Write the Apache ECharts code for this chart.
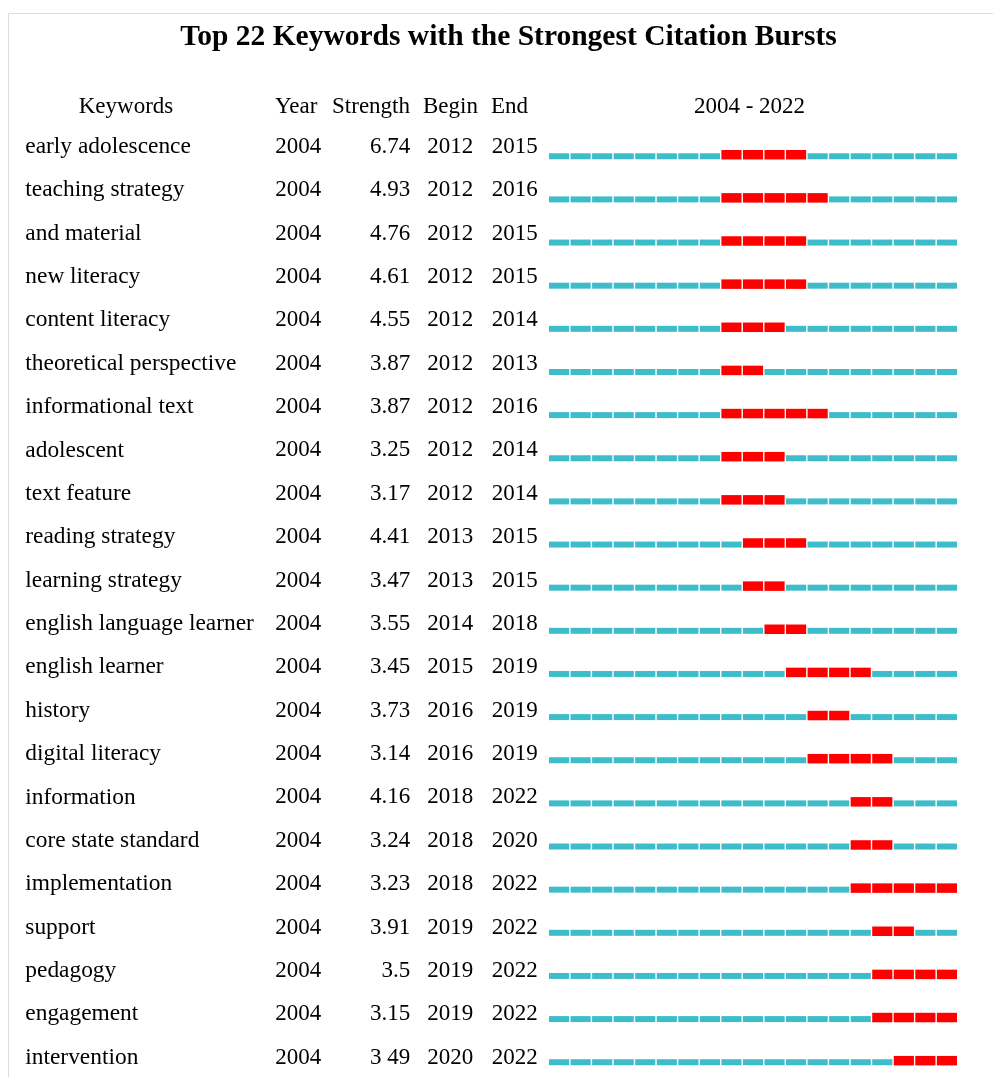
<!DOCTYPE html>
<html>
<head>
<meta charset="utf-8">
<script src="https://cdn.jsdelivr.net/npm/echarts@6/dist/echarts.min.js"></script>
<style>
  html, body { margin: 0; padding: 0; background: #fff; }
  #chart { width: 993px; height: 1077px; }
</style>
</head>
<body>
<div id="chart"></div>
<script>
const keywords = [
  'early adolescence', 'teaching strategy', 'and material', 'new literacy',
  'content literacy', 'theoretical perspective', 'informational text', 'adolescent',
  'text feature', 'reading strategy', 'learning strategy', 'english language learner',
  'english learner', 'history', 'digital literacy', 'information',
  'core state standard', 'implementation', 'support', 'pedagogy',
  'engagement', 'intervention'
];
const yearCol = Array(22).fill('2004');
const strength = [
  '6.74', '4.93', '4.76', '4.61', '4.55', '3.87', '3.87', '3.25', '3.17', '4.41', '3.47',
  '3.55', '3.45', '3.73', '3.14', '4.16', '3.24', '3.23', '3.91', '3.5', '3.15', '3 49'
];
const begin = [
  '2012', '2012', '2012', '2012', '2012', '2012', '2012', '2012', '2012', '2013', '2013',
  '2014', '2015', '2016', '2016', '2018', '2018', '2018', '2019', '2019', '2019', '2020'
];
const end = [
  '2015', '2016', '2015', '2015', '2014', '2013', '2016', '2014', '2014', '2015', '2015',
  '2018', '2019', '2019', '2019', '2022', '2020', '2022', '2022', '2022', '2022', '2022'
];
// red segments as drawn in the timeline
const burstFrom = [
  2012, 2012, 2012, 2012, 2012, 2012, 2012, 2012, 2012, 2013, 2013,
  2014, 2015, 2016, 2016, 2018, 2018, 2018, 2019, 2019, 2019, 2020
];
const burstTo = [
  2015, 2016, 2015, 2015, 2014, 2013, 2016, 2014, 2014, 2015, 2014,
  2015, 2018, 2017, 2019, 2019, 2019, 2022, 2020, 2022, 2022, 2022
];
const firstYear = 2004;
const lastYear = 2022;

const FONT = '"Liberation Serif", "Times New Roman", serif';
const TEAL = '#3dbdca';
const RED = '#ff0000';

const cells = [];
keywords.forEach((k, i) => {
  for (let y = firstYear; y <= lastYear; y++) {
    cells.push([y, i, y >= burstFrom[i] && y <= burstTo[i] ? 1 : 0]);
  }
});

function renderCell(params, api) {
  const yr = api.value(0);
  const row = api.value(1);
  const hot = api.value(2);
  const p0 = api.coord([yr, row]);
  const p1 = api.coord([yr + 1, row]);
  const c = p0[1];
  const x = p0[0] + 0.7;
  const w = p1[0] - p0[0] - 1.4;
  return {
    type: 'rect',
    shape: hot ? { x: x, y: c - 6.3, width: w, height: 9.5 }
               : { x: x, y: c - 3, width: w, height: 6 },
    style: { fill: hot ? RED : TEAL }
  };
}

function colAxis(values, margin, align, size, pad) {
  return {
    type: 'category',
    gridIndex: 0,
    data: keywords,
    inverse: true,
    position: 'left',
    offset: 0,
    axisLine: { show: false },
    axisTick: { show: false },
    splitLine: { show: false },
    axisLabel: {
      interval: 0,
      margin: margin,
      align: align,
      padding: pad,
      fontFamily: FONT,
      fontSize: size,
      color: '#000',
      formatter: (v, i) => values[i]
    }
  };
}

function header(text, x, align) {
  return {
    type: 'text',
    x: x,
    y: 107,
    style: {
      text: text,
      font: '23px ' + FONT,
      fill: '#000',
      align: align,
      verticalAlign: 'middle'
    }
  };
}

const chart = echarts.init(document.getElementById('chart'));
chart.setOption({
  backgroundColor: '#fff',
  animation: false,
  grid: [
    // text columns
    { left: 548.3, top: 125, width: 409.4, height: 954.4, outerBoundsMode: 'none' },
    // timeline
    { left: 548.3, top: 134.7, width: 409.4, height: 949.1, outerBoundsMode: 'none' }
  ],
  xAxis: [
    { type: 'value', gridIndex: 0, min: firstYear, max: lastYear + 1, show: false },
    { type: 'value', gridIndex: 1, min: firstYear, max: lastYear + 1, show: false }
  ],
  yAxis: [
    colAxis(keywords, 523, 'left', 23.4, [0, 0, 0, 0]),
    colAxis(yearCol, 273, 'left', 23, [6, 0, 0, 0]),
    colAxis(strength, 138, 'right', 23, [6, 0, 0, 0]),
    colAxis(begin, 121, 'left', 23, [6, 0, 0, 0]),
    colAxis(end, 56.5, 'left', 23, [6, 0, 0, 0]),
    {
      type: 'category', gridIndex: 1, data: keywords, inverse: true, show: false
    }
  ],
  graphic: [
    {
      type: 'polyline',
      shape: { points: [[8.5, 1077], [8.5, 13.5], [993, 13.5]] },
      style: { stroke: '#dcdcdc', lineWidth: 1, fill: null }
    },
    {
      type: 'text',
      x: 508.5,
      y: 37,
      style: {
        text: 'Top 22 Keywords with the Strongest Citation Bursts',
        font: 'bold 29.5px ' + FONT,
        fill: '#000',
        align: 'center',
        verticalAlign: 'middle'
      }
    },
    header('Keywords', 126, 'center'),
    header('Year', 275, 'left'),
    header('Strength', 410, 'right'),
    header('Begin', 450.5, 'center'),
    header('End', 491, 'left'),
    header('2004 - 2022', 749.5, 'center')
  ],
  series: [{
    type: 'custom',
    xAxisIndex: 1,
    yAxisIndex: 5,
    renderItem: renderCell,
    data: cells,
    encode: { x: 0, y: 1 },
    silent: true
  }]
});
</script>
</body>
</html>
